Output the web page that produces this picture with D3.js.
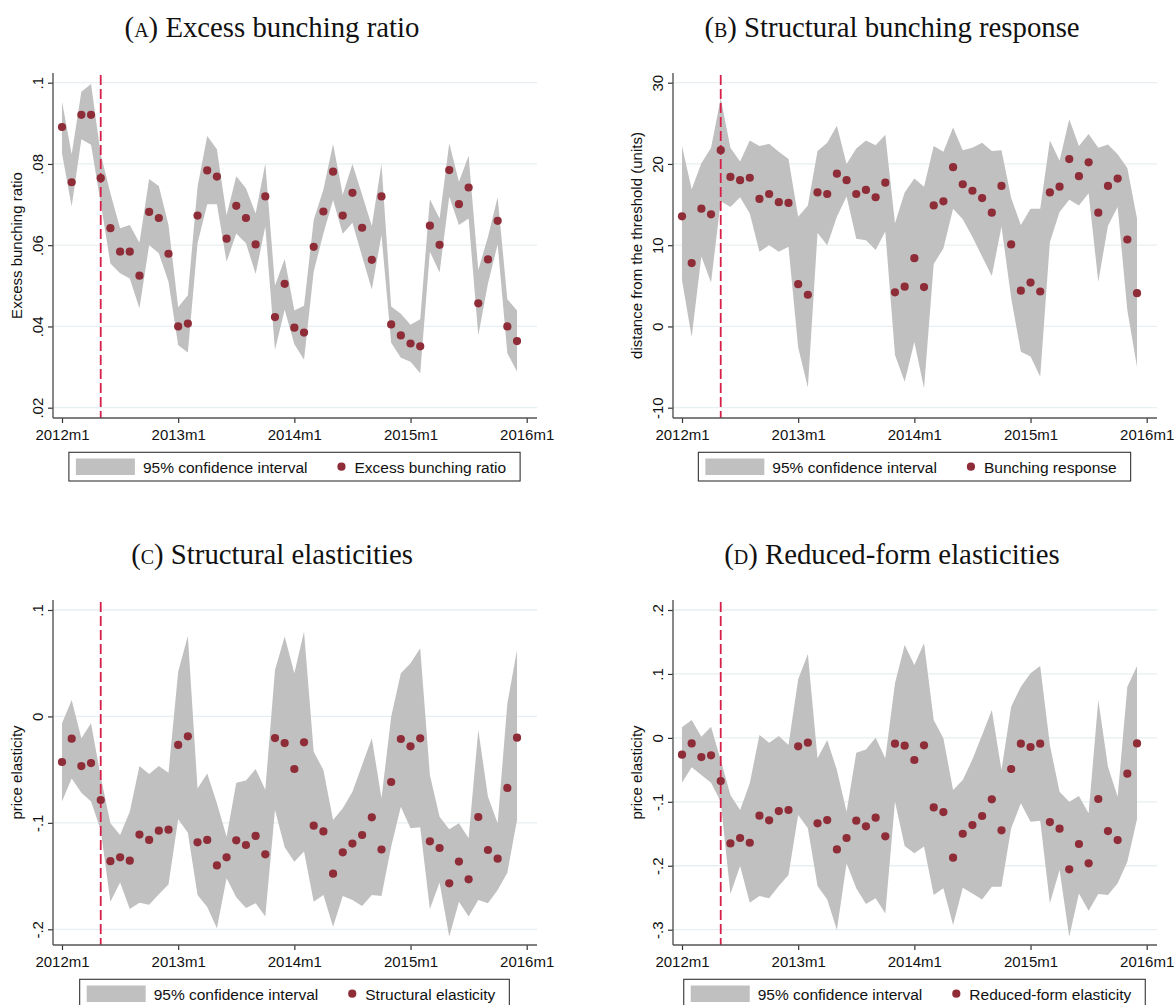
<!DOCTYPE html>
<html><head><meta charset="utf-8">
<script src="https://cdn.jsdelivr.net/npm/d3@7"></script>
<style>
html,body{margin:0;padding:0;background:#fff;}
svg{display:block;}
</style>
</head><body>
<svg id="chart" width="1174" height="1005"></svg>
<script>
// ---------- DATA ----------
const months = ["2012m1","2012m2","2012m3","2012m4","2012m5","2012m6","2012m7","2012m8","2012m9","2012m10","2012m11","2012m12",
"2013m1","2013m2","2013m3","2013m4","2013m5","2013m6","2013m7","2013m8","2013m9","2013m10","2013m11","2013m12",
"2014m1","2014m2","2014m3","2014m4","2014m5","2014m6","2014m7","2014m8","2014m9","2014m10","2014m11","2014m12",
"2015m1","2015m2","2015m3","2015m4","2015m5","2015m6","2015m7","2015m8","2015m9","2015m10","2015m11","2015m12"];
const xTickLabels = ["2012m1","2013m1","2014m1","2015m1","2016m1"];
const reformMonth = "2012m5";

const aEst = [0.0891,0.0755,0.0921,0.0921,0.0765,0.0642,0.0584,0.0584,0.0525,0.0682,0.0667,0.0579,0.0400,0.0407,0.0673,0.0784,0.0769,0.0616,0.0697,0.0667,0.0602,0.0720,0.0423,0.0505,0.0397,0.0385,0.0596,0.0683,0.0781,0.0673,0.0729,0.0643,0.0564,0.0720,0.0405,0.0378,0.0358,0.0351,0.0648,0.0601,0.0785,0.0701,0.0742,0.0457,0.0565,0.0660,0.0400,0.0364];
const aHi = [0.0954,0.0824,0.0978,0.0997,0.0824,0.0728,0.0642,0.0650,0.0606,0.0763,0.0746,0.0650,0.0447,0.0477,0.0744,0.0869,0.0836,0.0674,0.0770,0.0740,0.0678,0.0801,0.0501,0.0566,0.0439,0.0451,0.0662,0.0737,0.0849,0.0724,0.0800,0.0724,0.0647,0.0800,0.0449,0.0431,0.0404,0.0418,0.0713,0.0666,0.0851,0.0756,0.0820,0.0539,0.0621,0.0718,0.0467,0.0439];
const aLo = [0.0826,0.0695,0.0861,0.0847,0.0703,0.0555,0.0531,0.0518,0.0445,0.0600,0.0580,0.0510,0.0354,0.0336,0.0605,0.0701,0.0701,0.0559,0.0629,0.0605,0.0529,0.0646,0.0342,0.0441,0.0356,0.0318,0.0535,0.0629,0.0711,0.0628,0.0655,0.0572,0.0491,0.0625,0.0360,0.0323,0.0313,0.0285,0.0584,0.0533,0.0719,0.0650,0.0666,0.0378,0.0506,0.0602,0.0334,0.0289];

const bEst = [13.55,7.8,14.5,13.8,21.7,18.4,18.0,18.3,15.7,16.3,15.3,15.2,5.2,3.9,16.5,16.3,18.8,18.0,16.3,16.8,15.9,17.7,4.2,4.9,8.4,4.85,14.9,15.4,19.6,17.5,16.7,15.8,14.0,17.3,10.1,4.4,5.4,4.3,16.5,17.2,20.6,18.5,20.2,14.0,17.3,18.2,10.7,4.1];
const bHi = [22.2,16.9,20.1,22.0,28.1,22.0,20.3,22.9,22.2,22.5,21.5,20.6,13.5,14.9,21.6,22.6,24.7,20.0,21.9,22.9,22.3,23.6,12.7,16.5,18.2,17.2,22.2,21.5,24.5,21.7,22.0,22.6,21.6,21.7,15.8,12.5,14.5,14.5,22.9,20.4,25.5,22.2,23.7,22.0,22.4,21.2,19.5,13.3];
const bLo = [5.7,-1.3,8.6,5.4,15.4,14.7,15.9,13.9,9.2,10.0,9.2,9.8,-2.6,-7.5,11.5,10.0,13.5,16.0,10.8,10.6,9.4,11.7,-3.5,-6.8,-1.9,-7.6,7.7,9.6,14.5,13.2,11.0,8.6,6.2,12.3,3.5,-3.1,-3.7,-6.2,10.4,14.1,15.6,14.9,16.4,5.5,12.4,14.7,2.0,-5.0];

const cEst = [-0.0428,-0.0209,-0.0466,-0.0438,-0.0785,-0.136,-0.1324,-0.1355,-0.111,-0.116,-0.1073,-0.1064,-0.0268,-0.0187,-0.1183,-0.116,-0.140,-0.1324,-0.1164,-0.1208,-0.1123,-0.1296,-0.0203,-0.025,-0.0494,-0.0243,-0.1026,-0.108,-0.1477,-0.1277,-0.1195,-0.1114,-0.0948,-0.125,-0.0616,-0.0212,-0.0281,-0.0206,-0.1173,-0.1236,-0.1568,-0.1364,-0.153,-0.0945,-0.1255,-0.1336,-0.0672,-0.02];
const cHi = [-0.0065,0.0154,-0.0206,-0.0065,-0.0566,-0.1004,-0.1114,-0.0895,-0.0466,-0.054,-0.0466,-0.0528,0.042,0.0756,-0.0676,-0.0535,-0.0816,-0.113,-0.0622,-0.0603,-0.0494,-0.069,0.0436,0.075,0.0405,0.0797,-0.0331,-0.0503,-0.0973,-0.0863,-0.0707,-0.0456,-0.0206,-0.0769,-0.0002,0.0405,0.0499,0.064,-0.055,-0.0942,-0.106,-0.1004,-0.1145,-0.0127,-0.0754,-0.1004,0.0123,0.0624];
const cLo = [-0.080,-0.0582,-0.0716,-0.080,-0.1067,-0.174,-0.156,-0.181,-0.175,-0.177,-0.167,-0.158,-0.0967,-0.1092,-0.1678,-0.179,-0.199,-0.152,-0.170,-0.180,-0.1756,-0.188,-0.0879,-0.123,-0.1365,-0.127,-0.174,-0.1678,-0.1975,-0.1687,-0.1725,-0.178,-0.1678,-0.1687,-0.1224,-0.0848,-0.1051,-0.1042,-0.181,-0.156,-0.207,-0.174,-0.188,-0.1725,-0.1756,-0.163,-0.1468,-0.0973];

const dEst = [-0.0263,-0.0086,-0.030,-0.0273,-0.0675,-0.165,-0.1566,-0.164,-0.1217,-0.129,-0.1144,-0.1128,-0.0132,-0.0075,-0.1337,-0.1285,-0.1744,-0.1566,-0.1295,-0.1384,-0.1248,-0.154,-0.0091,-0.0122,-0.0346,-0.0117,-0.1087,-0.116,-0.1874,-0.1499,-0.1363,-0.1222,-0.0961,-0.1446,-0.0487,-0.0091,-0.0143,-0.0091,-0.1316,-0.142,-0.2056,-0.166,-0.1962,-0.0956,-0.1457,-0.1598,-0.056,-0.0086];
const dHi = [0.0165,0.028,0.0019,0.0175,-0.0346,-0.0894,-0.1128,-0.071,0.0045,-0.0075,0.0029,-0.0112,0.0916,0.1312,-0.032,-0.0034,-0.0503,-0.1154,-0.0232,-0.018,0.0003,-0.032,0.0853,0.1453,0.114,0.1479,0.028,-0.0007,-0.0815,-0.0659,-0.0336,0.0045,0.0436,-0.0503,0.0488,0.0801,0.1009,0.1124,-0.0112,-0.0842,-0.0998,-0.0909,-0.118,0.0592,-0.045,-0.092,0.0801,0.1124];
const dLo = [-0.070,-0.046,-0.058,-0.070,-0.0998,-0.244,-0.2004,-0.2578,-0.2473,-0.251,-0.2317,-0.2145,-0.1206,-0.1415,-0.2317,-0.2526,-0.3005,-0.1962,-0.2353,-0.2599,-0.251,-0.2745,-0.0998,-0.1691,-0.1806,-0.170,-0.2458,-0.2353,-0.2927,-0.2343,-0.2432,-0.2526,-0.2327,-0.2327,-0.1415,-0.1024,-0.1311,-0.1295,-0.2588,-0.2067,-0.311,-0.2432,-0.2703,-0.2442,-0.2458,-0.2275,-0.1936,-0.1274];

const aTicks = [0.1,0.08,0.06,0.04,0.02], aTickLabels = [".1",".08",".06",".04",".02"];
const bTicks = [30,20,10,0,-10], bTickLabels = ["30","20","10","0","-10"];
const cTicks = [0.1,0,-0.1,-0.2], cTickLabels = [".1","0","-.1","-.2"];
const dTicks = [0.2,0.1,0,-0.1,-0.2,-0.3], dTickLabels = [".2",".1","0","-.1","-.2","-.3"];

const panels = [
  {letter:"a", title:"Excess bunching ratio", ytitle:"Excess bunching ratio", legend:"Excess bunching ratio",
   est:aEst, lo:aLo, hi:aHi, ticks:aTicks, tickLabels:aTickLabels, ox:0, oy:0, yPix:[82.7,407.7]},
  {letter:"b", title:"Structural bunching response", ytitle:"distance from the threshold (units)", legend:"Bunching response",
   est:bEst, lo:bLo, hi:bHi, ticks:bTicks, tickLabels:bTickLabels, ox:620, oy:0, yPix:[82.7,407.7]},
  {letter:"c", title:"Structural elasticities", ytitle:"price elasticity", legend:"Structural elasticity",
   est:cEst, lo:cLo, hi:cHi, ticks:cTicks, tickLabels:cTickLabels, ox:0, oy:527, yPix:[83,402.3]},
  {letter:"d", title:"Reduced-form elasticities", ytitle:"price elasticity", legend:"Reduced-form elasticity",
   est:dEst, lo:dLo, hi:dHi, ticks:dTicks, tickLabels:dTickLabels, ox:620, oy:527, yPix:[83,402.7]}
];

// ---------- STYLE ----------
const sans = "'Liberation Sans', Arial, Helvetica, sans-serif";
const serif = "'Liberation Serif', 'Times New Roman', serif";
const bandColor = "#c0c0c0", dotColor = "#8e2c37", gridColor = "#e7eff2", axisColor = "#555", refColor = "#d6204a";
const plotL = 53, plotR = 537, plotT = 73, plotB = 418;

const svg = d3.select("#chart");

const x = d3.scaleLinear().domain([0, 48]).range([62, 526.7]);
const xTickIdx = xTickLabels.map((d,i) => i*12);

panels.forEach(p => {
  const g = svg.append("g").attr("transform", `translate(${p.ox},${p.oy})`);
  const y = d3.scaleLinear().domain([p.ticks[0], p.ticks[p.ticks.length-1]]).range(p.yPix);

  // gridlines
  g.selectAll("line.grid").data(p.ticks).join("line")
    .attr("x1", plotL).attr("x2", plotR)
    .attr("y1", d => y(d)).attr("y2", d => y(d))
    .attr("stroke", gridColor).attr("stroke-width", 1.3);

  // band
  const rows = months.map((m,i) => ({i, est:p.est[i], lo:p.lo[i], hi:p.hi[i]}));
  const area = d3.area().x(d => x(d.i)).y0(d => y(d.lo)).y1(d => y(d.hi));
  g.append("path").datum(rows).attr("d", area).attr("fill", bandColor);

  // reform line
  const ri = months.indexOf(reformMonth);
  g.append("line").attr("x1", x(ri)).attr("x2", x(ri)).attr("y1", plotT+2).attr("y2", plotB)
    .attr("stroke", refColor).attr("stroke-width", 1.8).attr("stroke-dasharray", "10,4");

  // points
  g.selectAll("circle.pt").data(rows).join("circle")
    .attr("cx", d => x(d.i)).attr("cy", d => y(d.est)).attr("r", 4.1).attr("fill", dotColor);

  // y axis
  const yAxis = d3.axisLeft(y).tickValues(p.ticks).tickSize(5).tickFormat((d,i) => p.tickLabels[i]);
  const ya = g.append("g").attr("transform", `translate(${plotL},0)`).call(yAxis);
  ya.select(".domain").remove();
  ya.selectAll(".tick line").attr("stroke", "#333").attr("stroke-width", 1.2);
  ya.selectAll(".tick text").attr("font-family", sans).attr("font-size", 15).attr("fill", "#111")
    .attr("text-anchor", "middle").attr("dy", null).attr("x", null)
    .attr("transform", "translate(-10,0) rotate(-90)").attr("y", 0);
  g.append("line").attr("x1", plotL).attr("x2", plotL).attr("y1", plotT).attr("y2", plotB)
    .attr("stroke", axisColor).attr("stroke-width", 1.4);

  // x axis
  const xAxis = d3.axisBottom(x).tickValues(xTickIdx).tickSize(5).tickFormat((d,i) => xTickLabels[i]);
  const xa = g.append("g").attr("transform", `translate(0,${plotB})`).call(xAxis);
  xa.select(".domain").remove();
  xa.selectAll(".tick line").attr("stroke", "#333").attr("stroke-width", 1.2);
  xa.selectAll(".tick text").attr("font-family", sans).attr("font-size", 15).attr("fill", "#111")
    .attr("dy", null).attr("y", 21.5);
  g.append("line").attr("x1", plotL).attr("x2", plotR).attr("y1", plotB).attr("y2", plotB)
    .attr("stroke", axisColor).attr("stroke-width", 1.4);

  // y title
  g.append("text").attr("transform", `translate(22,245.5) rotate(-90)`).attr("text-anchor", "middle")
    .attr("font-family", sans).attr("font-size", 15).attr("fill", "#111").text(p.ytitle);

  // panel title
  const t = g.append("text").attr("class", "ptitle").attr("x", 272).attr("y", 37).attr("text-anchor", "middle")
    .attr("font-family", serif).attr("font-size", 26).attr("fill", "#111");
  t.append("tspan").text("(");
  t.append("tspan").attr("font-variant", "small-caps").text(p.letter);
  t.append("tspan").text(") " + p.title);

  // legend
  const lg = g.append("g");
  const t1 = lg.append("text").attr("font-family", sans).attr("font-size", 15.5).attr("fill", "#111").attr("y", 473)
    .text("95% confidence interval");
  const t2 = lg.append("text").attr("font-family", sans).attr("font-size", 15.5).attr("fill", "#111").attr("y", 473)
    .text(p.legend);
  const w1 = t1.node().getComputedTextLength(), w2 = t2.node().getComputedTextLength();
  const W = 135 + w1 + w2;
  const L = 294.5 - W/2;
  lg.insert("rect", "text").attr("x", L).attr("y", 452.3).attr("width", W).attr("height", 28.7)
    .attr("fill", "#fff").attr("stroke", "#333").attr("stroke-width", 1.1);
  lg.append("rect").attr("x", L+7).attr("y", 458.5).attr("width", 59).attr("height", 16.5).attr("fill", bandColor);
  t1.attr("x", L+74);
  lg.append("circle").attr("cx", L+74+w1+34).attr("cy", 466.7).attr("r", 4.1).attr("fill", dotColor);
  t2.attr("x", L+74+w1+47);
});

// scale titles so panel A's title spans ~295px
const titles = svg.selectAll("text.ptitle");
const wA = titles.nodes()[0].getComputedTextLength();
const fs = 26 * 295 / wA;
titles.attr("font-size", fs);
</script>
</body></html>
